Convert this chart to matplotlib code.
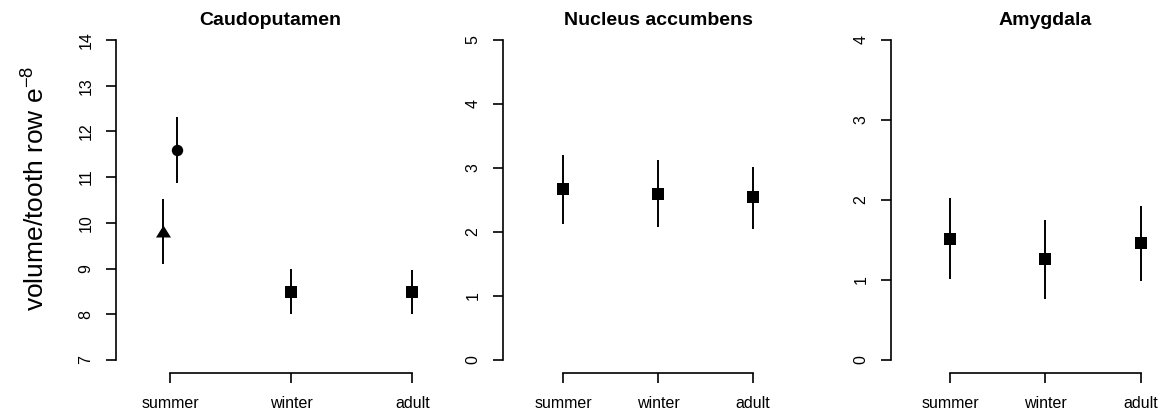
import matplotlib
matplotlib.use('Agg')
import matplotlib.pyplot as plt
from matplotlib.path import Path

plt.rcParams['font.family'] = ['Liberation Sans', 'DejaVu Sans']
plt.rcParams['mathtext.fontset'] = 'custom'
plt.rcParams['mathtext.rm'] = 'Liberation Sans'
plt.rcParams['mathtext.it'] = 'Liberation Sans:italic'

groups = ['summer', 'winter', 'adult']

# Caudoputamen: summer has two estimates (triangle / circle), then winter, adult
caudo_group = [0, 0, 1, 2]
caudo_mean = [9.82, 11.59, 8.49, 8.49]
caudo_lower = [9.09, 10.88, 8.00, 8.01]
caudo_upper = [10.52, 12.31, 8.98, 8.97]

accumbens_mean = [2.67, 2.60, 2.54]
accumbens_lower = [2.12, 2.08, 2.05]
accumbens_upper = [3.21, 3.12, 3.02]

amygdala_mean = [1.51, 1.26, 1.46]
amygdala_lower = [1.01, 0.76, 0.99]
amygdala_upper = [2.03, 1.75, 1.93]

W, H = 1164, 415
fig = plt.figure(figsize=(W / 100, H / 100), dpi=100)

# R-like filled triangle (pch = 17)
tri = Path([(0, 0.8), (-1, -0.8), (1, -0.8), (0, 0.8)],
           [Path.MOVETO, Path.LINETO, Path.LINETO, Path.CLOSEPOLY])


def make_axes(left_px, width_px, xlim, ylim, yticks, title):
    ax = fig.add_axes([left_px / W, 1 - 360 / H, width_px / W, 320 / H])
    ax.set_xlim(xlim)
    ax.set_ylim(ylim)
    for s in ['top', 'right']:
        ax.spines[s].set_visible(False)
    ax.spines['left'].set_bounds(ylim)
    ax.spines['bottom'].set_position(('outward', 9.4))
    ax.spines['bottom'].set_bounds(1, 3)
    for s in ['left', 'bottom']:
        ax.spines[s].set_linewidth(1.2)
    ax.set_xticks([1, 2, 3])
    ax.set_xticklabels(groups)
    ax.set_yticks(yticks)
    ax.tick_params(direction='out', length=7.2, width=1.2, labelsize=11.5)
    ax.tick_params(axis='x', pad=9.5)
    ax.tick_params(axis='y', labelrotation=90, pad=9)
    for lab in ax.get_yticklabels():
        lab.set_va('center')
    ax.set_title(title, fontsize=14, fontweight='bold', pad=10.8)
    return ax


def draw(ax, x, mean, lower, upper, marker, ms=8):
    ax.vlines(x, lower, upper, color='black', lw=1.4)
    ax.plot(x, mean, ls='none', marker=marker, ms=ms, color='black',
            markeredgewidth=0)


# panel 1
ax1 = make_axes(116, 308, (0.554, 3.096), (7, 14), range(7, 15), 'Caudoputamen')
dodge = 0.06
cx = [caudo_group[i] + 1 for i in range(len(caudo_group))]
cx[0] -= dodge
cx[1] += dodge
ax1.vlines(cx, caudo_lower, caudo_upper, color='black', lw=1.4)
ax1.plot(cx[0], caudo_mean[0], ls='none', marker=tri, ms=10.8, color='black', markeredgewidth=0)
ax1.plot(cx[1], caudo_mean[1], ls='none', marker='o', ms=8.2, color='black', markeredgewidth=0)
ax1.plot(cx[2:], caudo_mean[2:], ls='none', marker='s', ms=8, color='black', markeredgewidth=0)

# panel 2
ax2 = make_axes(503, 310, (0.368, 3.632), (0, 5), range(0, 6), 'Nucleus accumbens')
draw(ax2, [1, 2, 3], accumbens_mean, accumbens_lower, accumbens_upper, 's')

# panel 3
ax3 = make_axes(891, 309, (0.382, 3.618), (0, 4), range(0, 5), 'Amygdala')
draw(ax3, [1, 2, 3], amygdala_mean, amygdala_lower, amygdala_upper, 's')

fig.text(36 / W, 1 - 188 / H, r'volume/tooth row e$^{-8}$', rotation=90,
         ha='center', va='center', fontsize=19)

fig.savefig('out.png', dpi=100)
